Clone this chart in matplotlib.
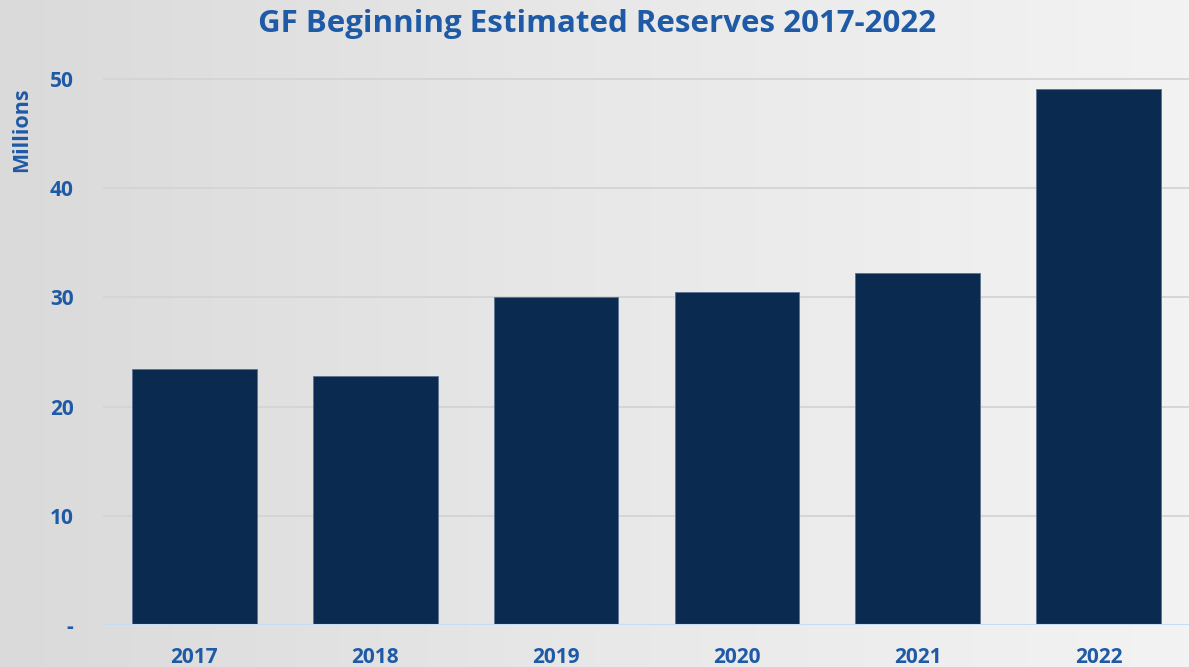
import numpy as np
import matplotlib.pyplot as plt

years = ["2017", "2018", "2019", "2020", "2021", "2022"]
reserves = [23.45, 22.8, 30.0, 30.5, 32.2, 49.1]
yticks = [0, 10, 20, 30, 40, 50]
ytick_labels = ["-", "10", "20", "30", "40", "50"]

blue = "#1F5AA6"
navy = "#0B2A4F"
plt.rcParams['font.family'] = ['Open Sans', 'DejaVu Sans']

fig = plt.figure(figsize=(11.89, 6.67), dpi=100)

# background gradient, darker on the left
bg = fig.add_axes([0, 0, 1, 1], zorder=0)
g = np.linspace(0, 1, 256)
grad = np.tile(g, (2, 1))
bg.imshow(grad, aspect="auto", cmap=plt.matplotlib.colors.LinearSegmentedColormap.from_list(
    "bg", ["#DADADA", "#E8E8E8", "#F3F3F3"]), extent=[0, 1, 0, 1])
bg.axis("off")

ax = fig.add_axes([104 / 1189, 42 / 667, 1 - 104 / 1189, (625 - 79) / 667], zorder=1)
ax.patch.set_alpha(0)
x = np.arange(len(years))
ax.bar(x, reserves, width=0.69, color=navy, edgecolor="#5A7390", linewidth=0.6, zorder=3)

ax.set_xlim(-0.5, len(years) - 0.5)
ax.set_ylim(0, 50)
ax.set_yticks(yticks)
ax.set_yticklabels(ytick_labels)
ax.set_xticks(x)
ax.set_xticklabels(years)
for y in yticks[1:]:
    ax.axhline(y, color="#D4D4D4", linewidth=1.3, zorder=1, clip_on=False)
ax.axhline(0, color="#C5DDF2", linewidth=1.5, zorder=4)
for s in ax.spines.values():
    s.set_visible(False)
ax.tick_params(length=0, labelsize=15, labelcolor=blue)
ax.tick_params(axis="x", pad=16)
ax.tick_params(axis="y", pad=22)
for lab in ax.get_xticklabels() + ax.get_yticklabels():
    lab.set_fontweight("bold")

fig.text(22 / 1189, 1 - 130 / 667, "Millions", rotation=90, ha="center", va="center",
         fontsize=15.5, fontweight="bold", color=blue)

fig.text(597 / 1189, 1 - 24 / 667, "GF Beginning Estimated Reserves 2017-2022", ha="center", va="center",
         fontsize=22.5, fontweight="bold", color=blue)

fig.savefig("out.png", dpi=100)
